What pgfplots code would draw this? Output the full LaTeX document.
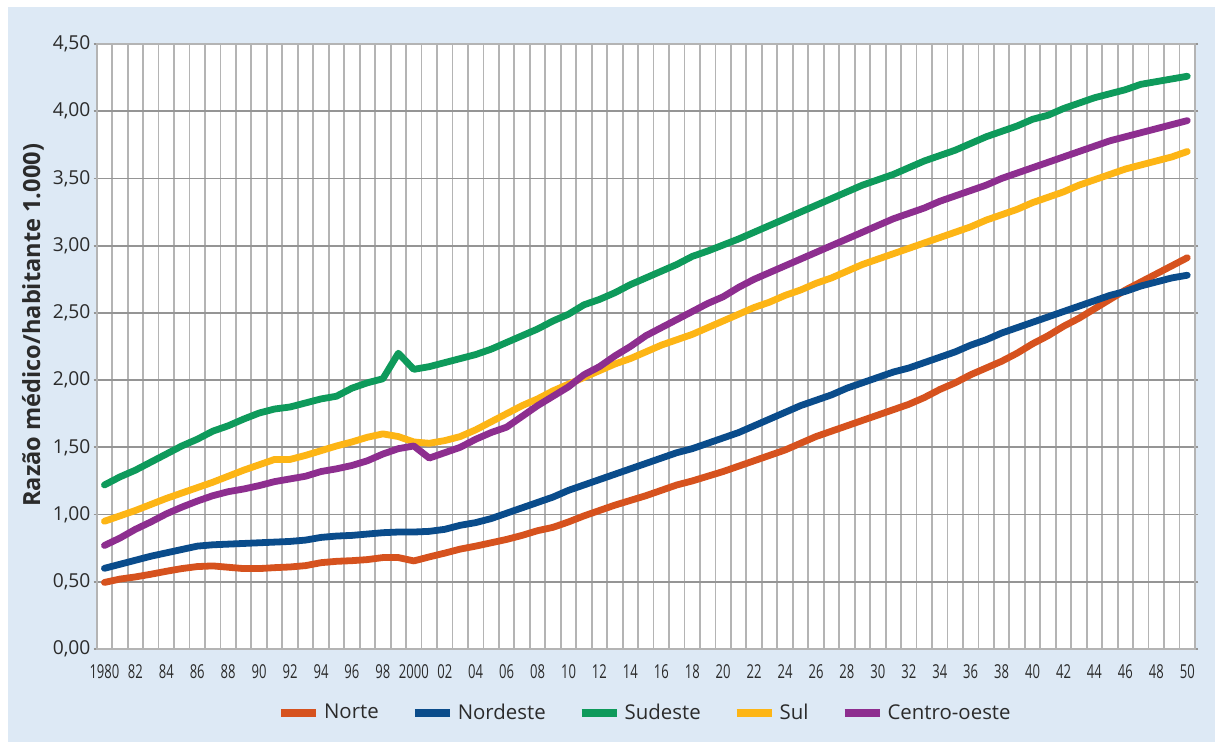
\documentclass[border=0pt]{standalone}
\usepackage{fontspec}
\setmainfont{Open Sans}
\newfontfamily\condfont[FakeStretch=0.68]{Open Sans}
\usepackage{pgfplots}
\usepackage{pgfplotstable}
\pgfplotsset{compat=1.18}
\definecolor{bgblue}{HTML}{DDE9F5}
\definecolor{cnorte}{HTML}{D6521E}
\definecolor{cnordeste}{HTML}{0A4C8B}
\definecolor{csudeste}{HTML}{0E9A5B}
\definecolor{csul}{HTML}{FDB515}
\definecolor{ccentro}{HTML}{8D2E8F}
\definecolor{gridgray}{HTML}{B4B4B4}
\definecolor{hgrid}{HTML}{959595}
\definecolor{txt}{HTML}{2B2B2B}
\pgfplotstableread{
year N NE SE S CO
1980 0.495 0.60 1.22 0.95 0.77
1981 0.52 0.63 1.28 0.99 0.825
1982 0.536 0.66 1.33 1.03 0.89
1983 0.556 0.69 1.39 1.075 0.945
1984 0.578 0.715 1.45 1.12 1.005
1985 0.598 0.74 1.51 1.16 1.055
1986 0.613 0.765 1.56 1.20 1.10
1987 0.618 0.775 1.62 1.24 1.14
1988 0.608 0.78 1.66 1.285 1.17
1989 0.598 0.785 1.71 1.33 1.19
1990 0.598 0.79 1.755 1.37 1.215
1991 0.605 0.795 1.785 1.41 1.245
1992 0.61 0.80 1.80 1.41 1.265
1993 0.62 0.81 1.83 1.44 1.285
1994 0.642 0.83 1.86 1.475 1.32
1995 0.652 0.84 1.88 1.51 1.34
1996 0.657 0.845 1.94 1.54 1.365
1997 0.665 0.855 1.98 1.575 1.40
1998 0.68 0.865 2.01 1.60 1.45
1999 0.68 0.87 2.20 1.58 1.49
2000 0.655 0.87 2.08 1.54 1.51
2001 0.685 0.875 2.10 1.53 1.42
2002 0.713 0.89 2.13 1.55 1.46
2003 0.743 0.92 2.16 1.58 1.50
2004 0.765 0.94 2.19 1.63 1.56
2005 0.79 0.97 2.23 1.69 1.61
2006 0.815 1.01 2.28 1.75 1.65
2007 0.845 1.05 2.33 1.81 1.73
2008 0.88 1.09 2.38 1.86 1.81
2009 0.905 1.13 2.44 1.92 1.88
2010 0.945 1.18 2.49 1.97 1.95
2011 0.99 1.22 2.56 2.02 2.04
2012 1.03 1.26 2.60 2.07 2.10
2013 1.07 1.30 2.65 2.12 2.18
2014 1.105 1.34 2.71 2.16 2.25
2015 1.14 1.38 2.76 2.21 2.33
2016 1.18 1.42 2.81 2.26 2.39
2017 1.22 1.46 2.86 2.30 2.45
2018 1.25 1.49 2.92 2.34 2.51
2019 1.285 1.53 2.96 2.39 2.57
2020 1.32 1.57 3.005 2.44 2.62
2021 1.36 1.61 3.05 2.49 2.69
2022 1.40 1.66 3.10 2.54 2.75
2023 1.44 1.71 3.15 2.58 2.80
2024 1.48 1.76 3.20 2.63 2.85
2025 1.53 1.81 3.25 2.67 2.90
2026 1.58 1.85 3.30 2.72 2.95
2027 1.62 1.89 3.35 2.76 3.00
2028 1.66 1.94 3.40 2.81 3.05
2029 1.70 1.98 3.45 2.86 3.10
2030 1.74 2.02 3.49 2.90 3.15
2031 1.78 2.06 3.53 2.94 3.20
2032 1.82 2.09 3.58 2.98 3.24
2033 1.87 2.13 3.63 3.02 3.28
2034 1.93 2.17 3.67 3.06 3.33
2035 1.98 2.21 3.71 3.10 3.37
2036 2.04 2.26 3.76 3.14 3.41
2037 2.09 2.30 3.81 3.19 3.45
2038 2.14 2.35 3.85 3.23 3.50
2039 2.20 2.39 3.89 3.27 3.54
2040 2.27 2.43 3.94 3.32 3.58
2041 2.33 2.47 3.97 3.36 3.62
2042 2.40 2.51 4.02 3.40 3.66
2043 2.46 2.55 4.06 3.45 3.70
2044 2.53 2.59 4.10 3.49 3.74
2045 2.60 2.63 4.13 3.53 3.78
2046 2.67 2.66 4.16 3.57 3.81
2047 2.73 2.70 4.20 3.60 3.84
2048 2.79 2.73 4.22 3.63 3.87
2049 2.85 2.76 4.24 3.66 3.90
2050 2.91 2.78 4.26 3.70 3.93
}\datatable
\begin{document}
\begin{tikzpicture}
\fill[white] (0,0) rectangle (607.5pt,371pt);
\useasboundingbox (0,0) rectangle (607.5pt,371pt);
\fill[bgblue] (4pt,0) rectangle (607.5pt,367.5pt);
\begin{axis}[
  at={(48.35pt,46.5pt)}, anchor=south west,
  scale only axis, width=549.15pt, height=302.5pt,
  xmin=1979.5, xmax=2050.5, ymin=0, ymax=4.5,
  axis background/.style={fill=white},
  axis line style={draw=gridgray, line width=0.9pt},
  xtick={1980,1982,...,2050},
  xticklabels={1980,82,84,86,88,90,92,94,96,98,2000,02,04,06,08,10,12,14,16,18,20,22,24,26,28,30,32,34,36,38,40,42,44,46,48,50},
  minor xtick={1979.5,1980.5,...,2050.5},
  xmajorgrids=false, xminorgrids=true,
  minor grid style={draw=gridgray, line width=0.9pt},
  ytick={0,0.5,...,4.5},
  ymajorgrids=true,
  major grid style={draw=hgrid, line width=0.9pt},
  tick align=outside,
  xtick style={draw=none}, minor tick length=0pt,
  ytick style={draw=hgrid, line width=0.9pt},
  major tick length=1.6pt,
  yticklabel style={font=\fontsize{9.6}{10}\selectfont, text=txt, xshift=2pt},
  xticklabel style={font=\condfont\fontsize{9.6}{10}\selectfont, text=txt, yshift=-2.5pt},
  /pgf/number format/.cd, fixed, fixed zerofill, precision=2, use comma, assume math mode=true,
  /pgfplots/.cd,
  ylabel={Razão médico/habitante 1.000)},
  ylabel style={font=\bfseries\fontsize{11.8}{12}\selectfont, text=txt, at={(axis description cs:-0.058,0.535)}, anchor=center},
  legend style={at={(0.5,-0.106)}, anchor=center, draw=none, fill=none,
    font=\fontsize{10.2}{12}\selectfont, text=txt,
    /tikz/every even column/.append style={column sep=14pt}},
  legend columns=5,
  legend image code/.code={\draw[#1, line width=4pt, line cap=butt] (0pt,0pt) -- (17.5pt,0pt);},
  every axis plot/.append style={line width=3.4pt, line join=round, line cap=round},
]
\addplot[cnorte] table[x=year, y=N] {\datatable};
\addlegendentry{Norte}
\addplot[cnordeste] table[x=year, y=NE] {\datatable};
\addlegendentry{Nordeste}
\addplot[csudeste] table[x=year, y=SE] {\datatable};
\addlegendentry{Sudeste}
\addplot[csul] table[x=year, y=S] {\datatable};
\addlegendentry{Sul}
\addplot[ccentro] table[x=year, y=CO] {\datatable};
\addlegendentry{Centro-oeste}
\end{axis}
\end{tikzpicture}
\end{document}
